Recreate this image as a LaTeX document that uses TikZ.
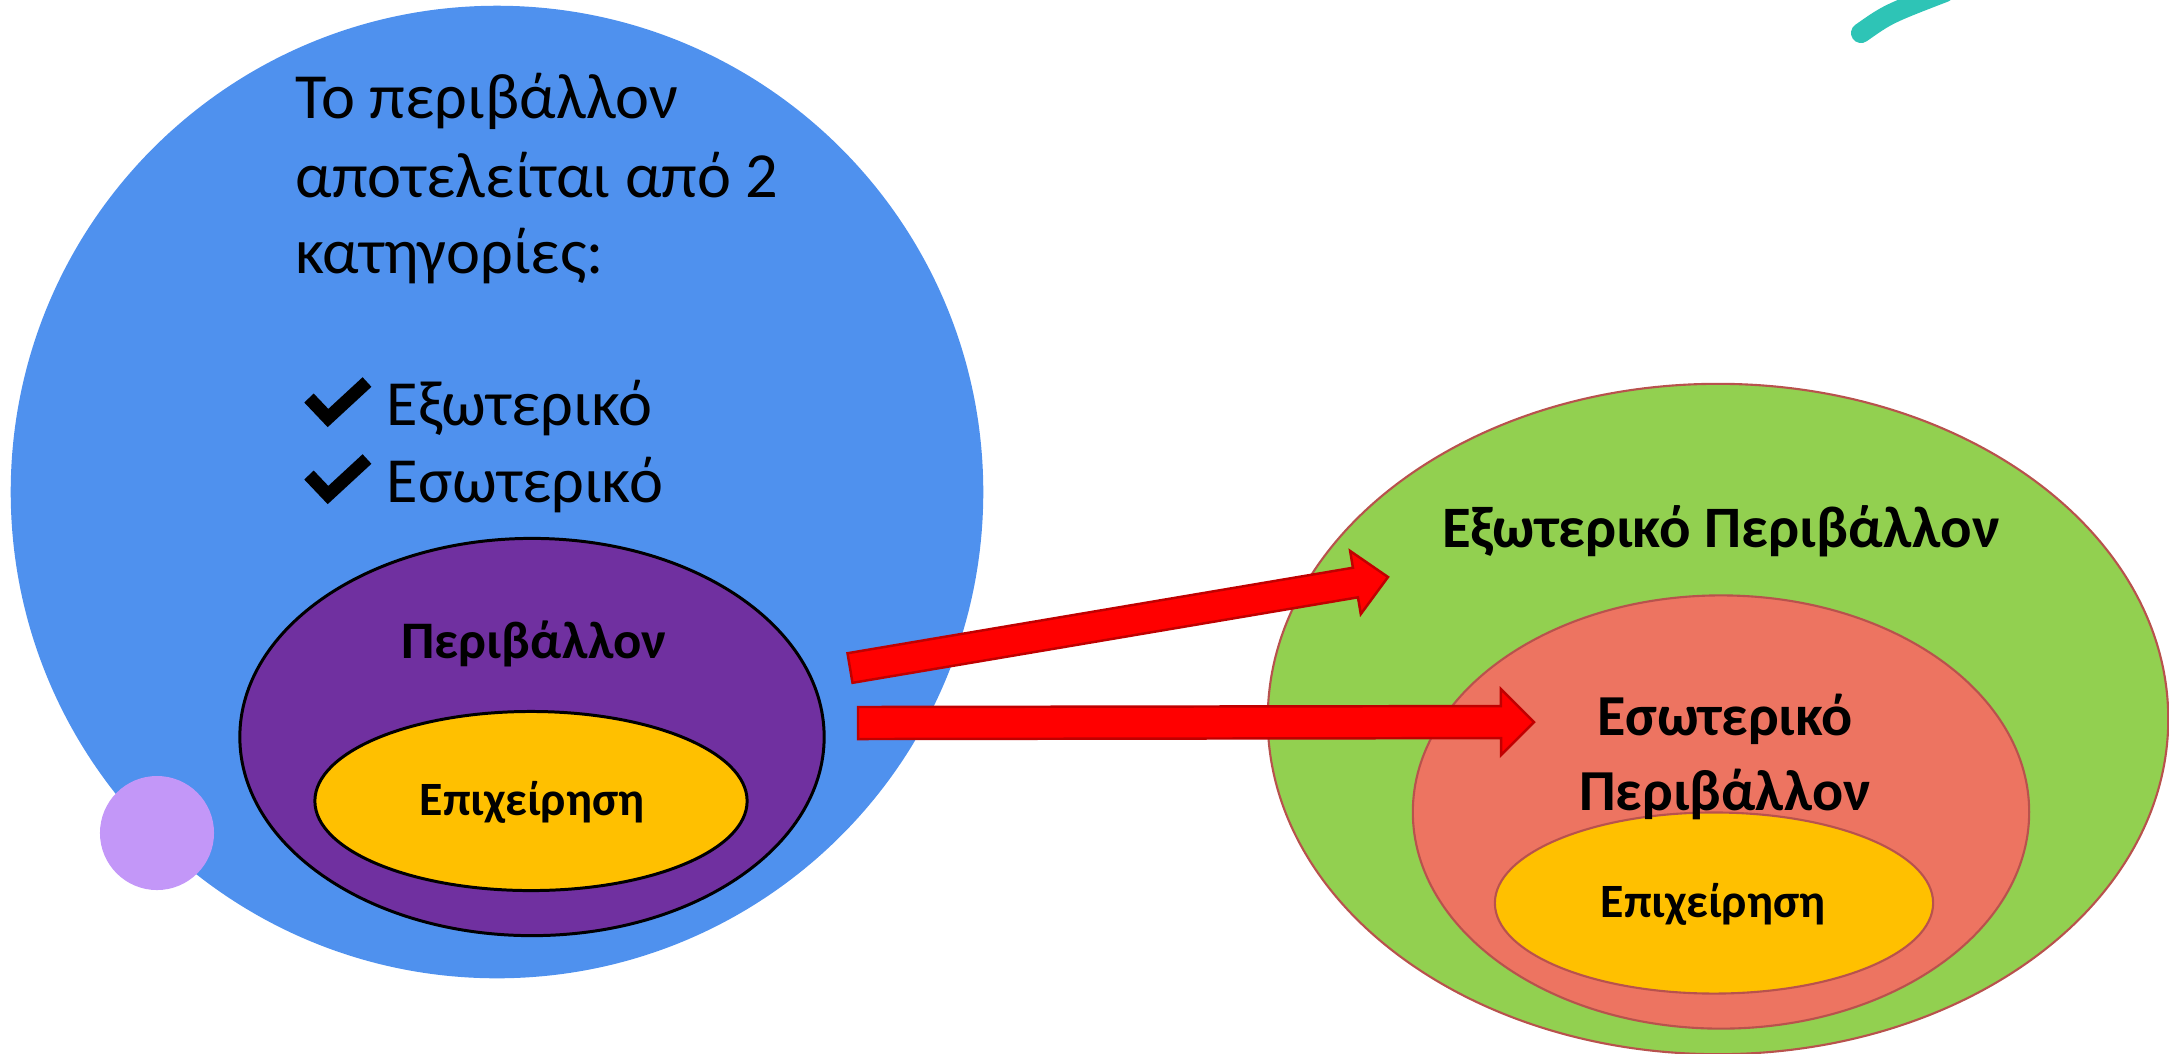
\documentclass[tikz,border=0pt]{standalone}
\usepackage{fontspec}
\setmainfont{Carlito}
\usetikzlibrary{shapes.geometric,calc}

\definecolor{envblue}{HTML}{4F91EE}
\definecolor{dotlilac}{HTML}{C397F8}
\definecolor{envpurple}{HTML}{7030A0}
\definecolor{firmyellow}{HTML}{FFC000}
\definecolor{extgreen}{HTML}{92D050}
\definecolor{intsalmon}{HTML}{ED7461}
\definecolor{rimred}{HTML}{B8524D}
\definecolor{arrowrim}{HTML}{C00000}
\definecolor{stroketeal}{HTML}{2EC4B6}

\begin{document}
\begin{tikzpicture}[x=0.01cm,y=-0.01cm,
    blob/.style={ellipse, inner sep=0pt},
    leftrim/.style={draw=black, line width=0.85pt},
    rightrim/.style={draw=rimred, line width=0.6pt},
    introtext/.style={anchor=base west, inner sep=0pt, font=\fontsize{18.3}{22}\selectfont},
    boldlabel/.style={anchor=base, inner sep=0pt, font=\bfseries\fontsize{16.7}{19}\selectfont},
    firmlabel/.style={anchor=base, inner sep=0pt, font=\bfseries\fontsize{13.6}{16}\selectfont},
    tickmark/.style={draw=black, line width=0.13cm, line join=miter, line cap=butt},
    blockarrow/.style={fill=red, draw=arrowrim, line width=0.7pt, line join=miter}]
  \clip (0,0) rectangle (2169,1053);
  % Left: the environment as a whole.
  \node[circle, fill=envblue, minimum size=9.72cm, inner sep=0pt] (whole) at (497,492) {};
  \node[circle, fill=dotlilac, minimum size=1.14cm, inner sep=0pt] (dot) at (157,833) {};
  \node[introtext] (intro1) at (295,118) {Το περιβάλλον};
  \node[introtext] (intro2) at (295,197) {αποτελείται από 2};
  \node[introtext] (intro3) at (295,273) {κατηγορίες:};
  \draw[tickmark] (309,398) -- (328,418) -- (367,382);
  \node[introtext] (ext) at (386,425) {Εξωτερικό};
  \draw[tickmark] (309,475) -- (328,495) -- (367,459);
  \node[introtext] (int) at (386,502) {Εσωτερικό};
  \node[blob, leftrim, fill=envpurple, minimum width=5.84cm, minimum height=3.97cm] (perib) at (532,737) {};
  \node[blob, leftrim, fill=firmyellow, minimum width=4.32cm, minimum height=1.79cm] (firmL) at (531,801) {};
  \node[boldlabel, font=\bfseries\fontsize{15}{18}\selectfont] at (534,658) {Περιβάλλον};
  \node[firmlabel] at (532,815) {Επιχείρηση};
  % Right: external and internal environment.
  \node[blob, rightrim, fill=extgreen, minimum width=9.0cm, minimum height=6.7cm] (outer) at (1718,719) {};
  \node[blob, rightrim, fill=intsalmon, minimum width=6.16cm, minimum height=4.33cm] (inner) at (1721,812) {};
  \node[blob, rightrim, fill=firmyellow, minimum width=4.38cm, minimum height=1.81cm] (firmR) at (1714,903) {};
  \node[boldlabel] (extlabel) at (1721,547) {Εξωτερικό Περιβάλλον};
  \node[boldlabel, font=\bfseries\fontsize{16.5}{19}\selectfont] (intlabel1) at (1725,735) {Εσωτερικό};
  \node[boldlabel, font=\bfseries\fontsize{16.5}{19}\selectfont] (intlabel2) at (1725,810) {Περιβάλλον};
  \node[firmlabel] at (1713,917) {Επιχείρηση};
  % The two block arrows.
  \coordinate (t1) at (850,668);
  \coordinate (h1) at (1388,577);
  \coordinate (b1) at ($(h1)!0.33cm!(t1)$);
  \draw[blockarrow] ($(t1)!0.15cm!90:(h1)$) -- ($(b1)!0.15cm!90:(h1)$) -- ($(b1)!0.32cm!90:(h1)$) -- (h1)
    -- ($(b1)!0.32cm!-90:(h1)$) -- ($(b1)!0.15cm!-90:(h1)$) -- ($(t1)!0.15cm!-90:(h1)$) -- cycle;
  \coordinate (t2) at (858,723);
  \coordinate (h2) at (1534,722);
  \coordinate (b2) at ($(h2)!0.33cm!(t2)$);
  \draw[blockarrow] ($(t2)!0.16cm!90:(h2)$) -- ($(b2)!0.16cm!90:(h2)$) -- ($(b2)!0.33cm!90:(h2)$) -- (h2)
    -- ($(b2)!0.33cm!-90:(h2)$) -- ($(b2)!0.16cm!-90:(h2)$) -- ($(t2)!0.16cm!-90:(h2)$) -- cycle;
  % Teal stroke in the corner.
  \draw[stroketeal, line width=0.2cm, line cap=round] (1861,33) .. controls (1888,14) .. (1945,-8);
\end{tikzpicture}
\end{document}
